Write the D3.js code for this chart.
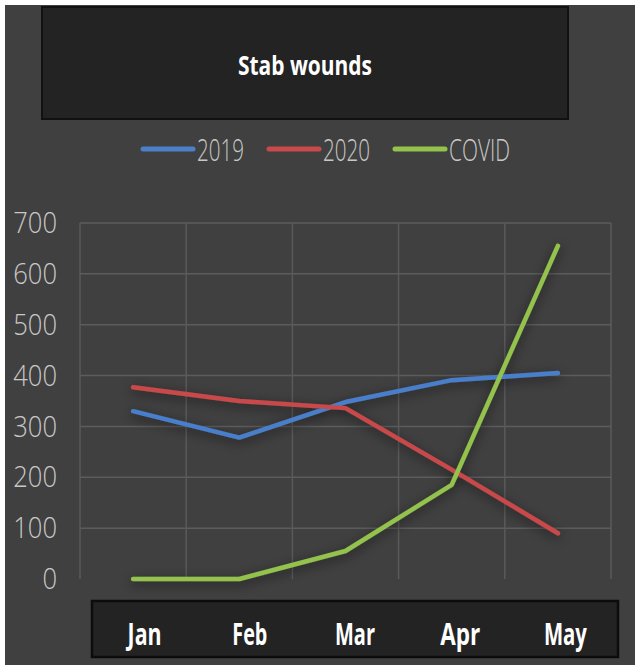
<!DOCTYPE html>
<html>
<head>
<meta charset="utf-8">
<script src="https://cdn.jsdelivr.net/npm/d3@7"></script>
<style>
  html, body { margin: 0; padding: 0; background: #404040; }
  svg { display: block; }
</style>
</head>
<body>
<div id="chart"></div>
<script>
const width = 635;
const height = 665;

const months = ["Jan", "Feb", "Mar", "Apr", "May"];
const values2019 = [330, 278, 348, 391, 405];
const values2020 = [377, 350, 336, 215, 90];
const valuesCovid = [0, 0, 55, 185, 655];
const yTicks = [0, 100, 200, 300, 400, 500, 600, 700];

const series = [
    { name: "2019", color: "#4a7fca", values: values2019 },
    { name: "2020", color: "#c94a4b", values: values2020 },
    { name: "COVID", color: "#93c24d", values: valuesCovid }
];

const font = "'Open Sans', sans-serif";

const svg = d3.select("#chart")
    .append("svg")
    .attr("width", width)
    .attr("height", height);

// soft dark glow under the lines
const defs = svg.append("defs");
const filt = defs.append("filter").attr("id", "shadow")
    .attr("x", "-20%").attr("y", "-20%").attr("width", "140%").attr("height", "140%");
filt.append("feDropShadow")
    .attr("dx", 0).attr("dy", 3).attr("stdDeviation", 6)
    .attr("flood-color", "#000").attr("flood-opacity", 0.6);

// page background + white edge at top/left
svg.append("rect").attr("width", width).attr("height", height).attr("fill", "#404040");
svg.append("rect").attr("x", 0).attr("y", 0).attr("width", width).attr("height", 5).attr("fill", "#fff");
svg.append("rect").attr("x", 0).attr("y", 0).attr("width", 5).attr("height", height).attr("fill", "#fff");

// title box
svg.append("rect")
    .attr("x", 42).attr("y", 7).attr("width", 526).attr("height", 112)
    .attr("fill", "#232323").attr("stroke", "#111").attr("stroke-width", 2);
svg.append("text")
    .attr("x", 238).attr("y", 75)
    .attr("fill", "#fff")
    .attr("textLength", 134)
    .attr("lengthAdjust", "spacingAndGlyphs")
    .style("font-family", font)
    .style("font-weight", "bold")
    .style("font-size", "27px")
    .text("Stab wounds");

// legend
const legendX = [142, 268, 394];
const legendW = [47, 47, 61];
const legend = svg.append("g").selectAll("g")
    .data(series)
    .enter().append("g")
    .attr("transform", (d, i) => `translate(${legendX[i]},149)`);
legend.append("line")
    .attr("x1", 1).attr("x2", 51).attr("y1", 0).attr("y2", 0)
    .attr("stroke", d => d.color).attr("stroke-width", 5)
    .attr("stroke-linecap", "round");
legend.append("text")
    .attr("x", 55).attr("y", 12)
    .attr("fill", "#c8c8c8")
    .attr("textLength", (d, i) => legendW[i])
    .attr("lengthAdjust", "spacingAndGlyphs")
    .style("font-family", font)
    .style("font-weight", 300)
    .style("font-size", "31px")
    .text(d => d.name);

// plot area
const x0 = 80, x1 = 611, yTop = 223, yBot = 579;
const x = d3.scaleBand().domain(months).range([x0, x1]);
const y = d3.scaleLinear().domain([0, 700]).range([yBot, yTop]);

const grid = svg.append("g");
grid.selectAll(".hgrid")
    .data(yTicks.filter(t => t > 0))
    .enter().append("line")
    .attr("x1", x0).attr("x2", x1)
    .attr("y1", d => y(d)).attr("y2", d => y(d))
    .attr("stroke", "#5c5c5c").attr("stroke-width", 1.5);
grid.selectAll(".vgrid")
    .data(months.concat(["end"]))
    .enter().append("line")
    .attr("x1", (d, i) => i < months.length ? x(d) : x1)
    .attr("x2", (d, i) => i < months.length ? x(d) : x1)
    .attr("y1", yTop).attr("y2", yBot)
    .attr("stroke", "#5a5a5a").attr("stroke-width", 1.5);

// y axis labels
const yAxis = svg.append("g")
    .attr("transform", "translate(60,0)")
    .call(d3.axisLeft(y).tickValues(yTicks).tickSize(0).tickPadding(3));
yAxis.select(".domain").remove();
yAxis.selectAll("text")
    .attr("fill", "#c8c8c8")
    .attr("textLength", d => String(d).length * 14.6)
    .attr("lengthAdjust", "spacingAndGlyphs")
    .style("font-family", font)
    .style("font-weight", 300)
    .style("font-size", "30px");

// lines
const line = d3.line()
    .x((d, i) => x(months[i]) + x.bandwidth() / 2)
    .y(d => y(d));

svg.append("g").attr("filter", "url(#shadow)")
    .selectAll("path")
    .data(series)
    .enter().append("path")
    .attr("d", d => line(d.values))
    .attr("fill", "none")
    .attr("stroke", d => d.color)
    .attr("stroke-width", 4.5)
    .attr("stroke-linejoin", "round")
    .attr("stroke-linecap", "round");

// x axis box
const bx0 = 92, bx1 = 618;
svg.append("rect")
    .attr("x", bx0).attr("y", 601).attr("width", bx1 - bx0).attr("height", 56)
    .attr("fill", "#232323").attr("stroke", "#0c0c0c").attr("stroke-width", 2.5);
const xb = d3.scaleBand().domain(months).range([bx0, bx1]);
const labelW = [34, 35, 40, 40, 43];
const xAxis = svg.append("g")
    .attr("transform", "translate(0,645)")
    .call(d3.axisBottom(xb).tickSize(0).tickPadding(0));
xAxis.select(".domain").remove();
xAxis.selectAll("text")
    .attr("y", 0)
    .attr("dy", 0)
    .attr("fill", "#fff")
    .attr("textLength", (d, i) => labelW[i])
    .attr("lengthAdjust", "spacingAndGlyphs")
    .style("font-family", font)
    .style("font-weight", "bold")
    .style("font-size", "30px");
</script>
</body>
</html>
